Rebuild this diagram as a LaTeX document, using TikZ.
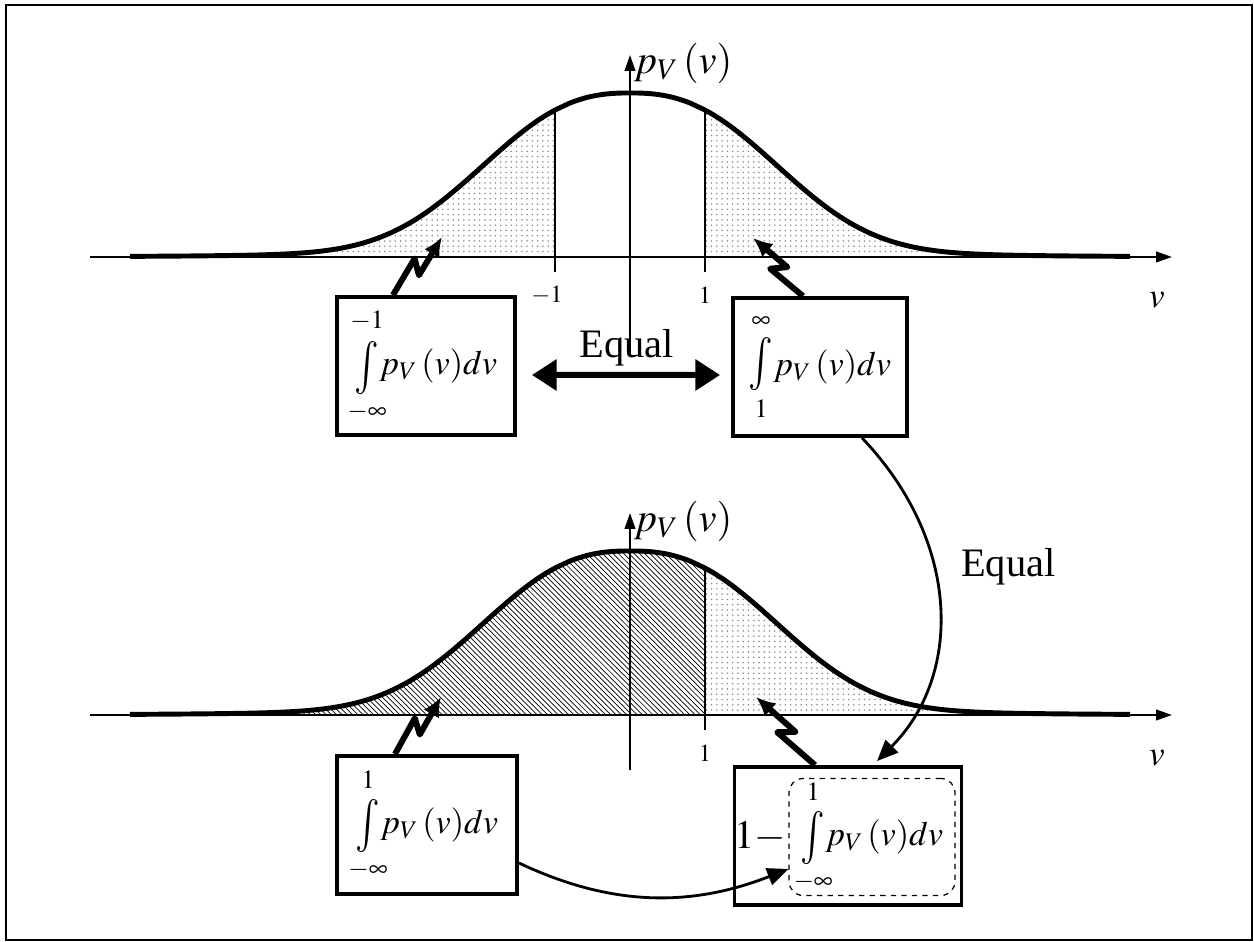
\documentclass[tikz,border=0pt]{standalone}
\usepackage{mathptmx}
\usepackage{graphicx}
\usepackage{fontspec}
\setmainfont{Liberation Serif}
\usetikzlibrary{arrows.meta,patterns,calc,positioning}

% integral with its limits stacked above and below, no extra width
\newcommand{\vint}[2]{\vcenter{\offinterlineskip\halign{\hfil##\hfil\cr
  \makebox[0pt]{\fontsize{15}{18}\selectfont$#2$}\cr\noalign{\kern6pt}
  \scalebox{1.2}[1.55]{$\int$}\cr\noalign{\kern5pt}
  \makebox[0pt]{\fontsize{15}{18}\selectfont$#1$}\cr}}}
\newcommand{\pvdv}{p_V\mkern2mu(v)dv}

\tikzset{
  axis/.style={line width=1.1pt, -{Triangle[length=9pt,width=6pt]}},
  bell/.style={line width=2.8pt, line join=round},
  cut/.style={line width=0.8pt},
  intbox/.style={draw, line width=2.2pt, inner sep=0pt, minimum width=3.56cm, minimum height=2.76cm,
    font=\fontsize{19.5}{24}\selectfont},
  zap/.style={line width=3.4pt, line join=round, -{Latex[length=11pt,width=10pt]}},
  link/.style={line width=1.6pt, -{Triangle[length=12pt,width=10pt]}},
  bigtxt/.style={font=\fontsize{23}{27}\selectfont},
  ticktxt/.style={font=\fontsize{14}{16}\selectfont},
  tails/.style={pattern=dots, pattern color=black!45},
  middle/.style={pattern=north west lines, pattern color=black}
}

\begin{document}
\begin{tikzpicture}[x=0.02cm, y=0.02cm,
  declare function={pv(\t)=158*exp(-pow((\t/180)*(\t/180)+0.0001,1.25))+6*exp(-(\t/330)*(\t/330));}]
  \useasboundingbox (0,0) rectangle (1254,942);
  \draw[line width=1.2pt] (6,2) rectangle (1252,937);

  % upper density: both tails
  \begin{scope}[shift={(630,685)}]
    \fill[tails] (-500,0) -- plot[domain=-500:-75, samples=60] (\x,{pv(\x)}) -- (-75,0) -- cycle;
    \fill[tails] (75,0) -- plot[domain=75:500, samples=60] (\x,{pv(\x)}) -- (500,0) -- cycle;
    \draw[cut] (-75,-15) -- (-75,{pv(-75)});
    \draw[cut] (75,-15) -- (75,{pv(75)});
    \node[ticktxt] (tm1) at (-83,-38) {$-1$};
    \node[ticktxt] (tp1) at (75,-38) {$1$};
    \draw[axis] (-540,0) -- (542,0);
    \draw[axis] (0,-98) -- (0,202) node[right, xshift=-0.06cm, yshift=-0.16cm, bigtxt] (py1) {$p_V\mkern2mu(v)$};
    \node[font=\fontsize{20}{24}\selectfont] (v1) at (527,-43) {$v$};
    \draw[bell] plot[domain=-500:500, samples=121, smooth] (\x,{pv(\x)});
    \coordinate (tl1) at (-188,20);
    \coordinate (tr1) at (123,19);
  \end{scope}

  % lower density: left part and right tail
  \begin{scope}[shift={(630,227)}]
    \fill[middle] (-500,0) -- plot[domain=-500:75, samples=90] (\x,{pv(\x)}) -- (75,0) -- cycle;
    \fill[tails] (75,0) -- plot[domain=75:500, samples=60] (\x,{pv(\x)}) -- (500,0) -- cycle;
    \draw[cut] (75,-15) -- (75,{pv(75)});
    \node[ticktxt] (tp2) at (75,-38) {$1$};
    \draw[axis] (-540,0) -- (542,0);
    \draw[axis] (0,-55) -- (0,202) node[right, xshift=-0.06cm, yshift=-0.16cm, bigtxt] (py2) {$p_V\mkern2mu(v)$};
    \node[font=\fontsize{20}{24}\selectfont] (v2) at (527,-43) {$v$};
    \draw[bell] plot[domain=-500:500, samples=121, smooth] (\x,{pv(\x)});
    \coordinate (tl2) at (-189,18);
    \coordinate (tr2) at (126,18);
  \end{scope}

  % integral boxes
  \node[intbox] (b1) at (426,576) {$\vint{-\infty}{-1}\pvdv$};
  \node[intbox, minimum width=3.48cm] (b2) at (820,575) {$\vint{1}{\infty}\pvdv$};
  \node[intbox, minimum width=3.6cm] (b3) at (427,117) {$\vint{-\infty}{1}\pvdv$};
  \node[intbox, minimum width=4.54cm] (b4) at (848,106) {};
  \node[draw, dashed, rounded corners=8pt, line width=0.7pt, inner sep=0pt,
        minimum width=3.32cm, minimum height=2.34cm, font=\fontsize{19.5}{24}\selectfont] (ib) at (872,105)
        {$\vint{-\infty}{1}\pvdv$};
  \node[bigtxt, left=0pt of ib, inner sep=1pt] (om) {$1-$};

  % zig-zag pointers to the areas
  \foreach \a/\dx/\t in {b1/-33/tl1, b2/-17/tr1, b3/-32/tl2, b4/-33/tr2} {
    \coordinate (s) at ($(\a.north)+(\dx,0)$);
    \draw[zap] (s) -- ($(s)!0.55!(\t)!4pt!90:(\t)$) -- ($(s)!0.42!(\t)!4pt!-90:(\t)$) -- (\t);
  }

  % equalities
  \draw[line width=3.4pt, {Triangle[length=14pt,width=17pt]}-{Triangle[length=14pt,width=17pt]},
        shorten <=0.3cm, shorten >=0.22cm] ([yshift=-0.18cm]b1.east) -- ([yshift=-0.16cm]b2.west);
  \node[bigtxt] (eq1) at (627,594) {Equal};
  \draw[link] ($(b2.south)+(42,0)$) .. controls +(100,-105) and +(85,85) .. ($(b4.north)+(29,4)$);
  \node[bigtxt, anchor=west] (eq2) at (955,375) {Equal};
  \draw[link] ($(b3.east)+(0,-38)$) .. controls +(93,-44) and +(-97,-38) .. ($(ib.west)+(0,-32)$);
\end{tikzpicture}
\end{document}
